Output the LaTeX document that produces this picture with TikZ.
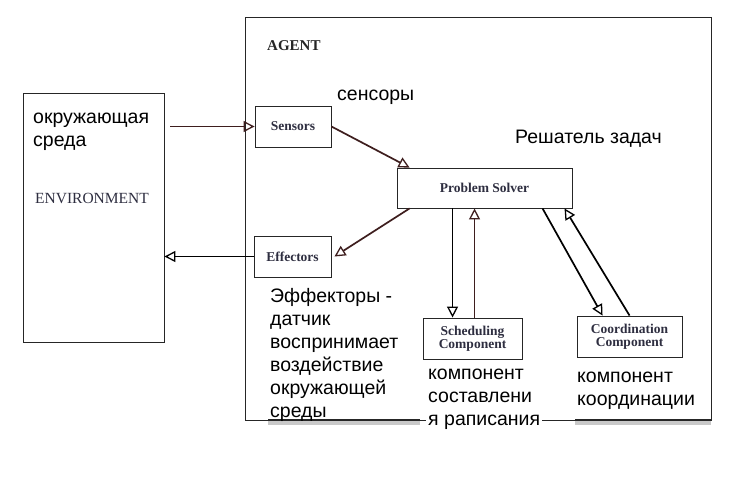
\documentclass[tikz,border=0pt]{standalone}
\usepackage{fontspec}
\setmainfont{Liberation Serif}
\newfontfamily\rufont{Liberation Sans}
\usetikzlibrary{arrows.meta,calc}
\definecolor{brn}{HTML}{3E1E1E}
\definecolor{lbl}{HTML}{2E2E40}
\newcommand{\rlines}[1]{\vtop{\halign{##\hfil\cr #1\crcr}}}
\tikzset{
  box/.style={draw=black!85, line width=0.9pt, fill=white, inner sep=0pt},
  lab/.style={font=\fontsize{13.5}{12.5}\selectfont\bfseries, text=lbl, align=center},
  rutext/.style={font=\rufont\fontsize{19.5}{23}\selectfont, inner sep=0pt, anchor=base west},
  conn/.style={line width=1.7pt, -{Triangle[open, length=11pt, width=11pt, line width=1.3pt]}},
}
\begin{document}
\begin{tikzpicture}[x=1pt,y=-1pt]
\useasboundingbox[fill=white] (0,0) rectangle (739,485);
% agent frame
\node[box, minimum width=466pt, minimum height=403pt] (agent) at (478,218.5) {};
\fill[black!35, opacity=0.6] (268,421) rectangle (420,425);
\fill[black!35, opacity=0.6] (575,421) rectangle (711,425);
\draw[line width=2pt, black!85] (268,420) -- (420,420);
\draw[line width=2pt, black!85] (575,420) -- (711,420);
\node[font=\fontsize{15}{15}\selectfont\bfseries, text=black!85, anchor=base west, inner sep=0pt] (agentlab) at (267,50) {AGENT};
% environment
\node[box, minimum width=141pt, minimum height=249pt] (env) at (93.5,217.5) {};
\node[rutext] (envru) at (33,123) {\rlines{окружающая\cr среда}};
\node[font=\fontsize{15.5}{15.5}\selectfont, text=lbl, anchor=base west, inner sep=0pt] (envlab) at (35,203) {ENVIRONMENT};
% boxes
\node[box, minimum width=76pt, minimum height=41pt] (sens) at (293,126.5) {};
\node[lab] at (sens.center) {Sensors};
\node[box, minimum width=175pt, minimum height=40pt] (ps) at (484.5,188) {};
\node[lab, font=\fontsize{13.5}{13}\selectfont\bfseries] at (ps.center) {Problem Solver};
\node[box, minimum width=77pt, minimum height=41pt] (eff) at (292.5,256.5) {};
\node[lab] at (eff.center) {Effectors};
\node[box, minimum width=99pt, minimum height=41pt] (sched) at (472.5,338.5) {};
\node[lab] at (sched.center) {Scheduling\\Component};
\node[box, minimum width=105pt, minimum height=41pt] (coord) at (629.5,336.5) {};
\node[lab] at (coord.center) {Coordination\\Component};
% russian labels
\node[rutext] (sensru) at (337,100) {сенсоры};
\node[rutext] (psru) at (515,143) {Решатель задач};
\node[rutext] (effru) at (270,302) {\rlines{Эффекторы -\cr датчик\cr воспринимает\cr воздействие\cr окружающей\cr среды}};
\node[rutext] (schedru) at (428,379) {\rlines{компонент\cr составлени}};
\node[rutext, fill=white, inner xsep=2pt, inner ysep=0pt] (schedru2) at (426,425) {я раписания};
\node[rutext] (coordru) at (577,382) {\rlines{компонент\cr координации}};
% connectors
\coordinate (envout) at ([xshift=6pt]env.east |- sens.west);
\draw[conn, brn] (envout) -- (sens.west);
\coordinate (psin) at ($(ps.north west)+(13,0)$);
\draw[conn, brn] (sens.east) -- (psin);
\coordinate (psout) at ($(ps.south west)+(13,0)$);
\draw[conn, brn] (psout) -- ([xshift=3pt]eff.east);
\draw[conn, black] (eff.west) -- (env.east |- eff.west);
\coordinate (d1) at ($(ps.south west)+(56,0)$);
\draw[conn, black] (d1) -- (d1 |- sched.north);
\coordinate (u1) at ($(sched.north west)+(52,0)$);
\draw[conn, brn] (u1) -- (u1 |- ps.south);
\coordinate (d2) at ($(ps.south west)+(146,0)$);
\coordinate (d2e) at ($(coord.north west)+(26,0)$);
\draw[conn, black] (d2) -- (d2e);
\coordinate (u2) at ($(coord.north west)+(53,0)$);
\coordinate (u2e) at ($(ps.south west)+(168,0)$);
\draw[conn, black] (u2) -- (u2e);
\end{tikzpicture}
\end{document}
